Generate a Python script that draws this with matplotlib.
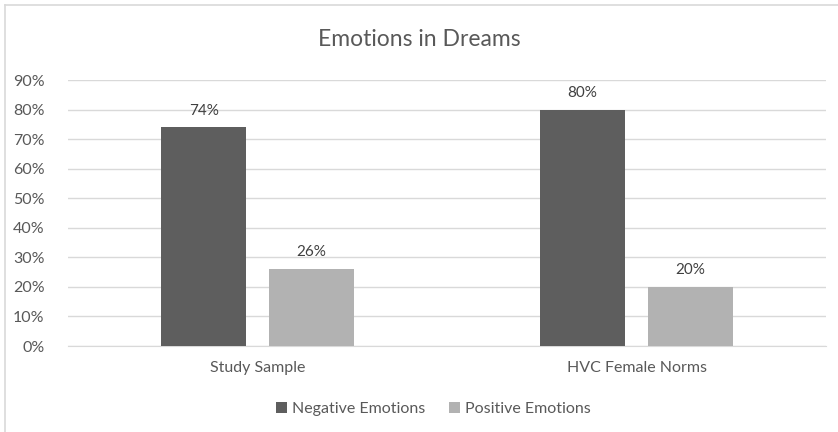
import numpy as np
import matplotlib.pyplot as plt
from matplotlib.lines import Line2D

categories = ['Study Sample', 'HVC Female Norms']
negative = [0.74, 0.80]
positive = [0.26, 0.20]
series_names = ['Negative Emotions', 'Positive Emotions']
yticks = [0, 0.1, 0.2, 0.3, 0.4, 0.5, 0.6, 0.7, 0.8, 0.9]

plt.rcParams['font.family'] = ['Lato', 'DejaVu Sans']

W, H = 838, 432
fig = plt.figure(figsize=(W / 100, H / 100), dpi=100)
ax = fig.add_axes([68 / W, (H - 346) / H, (826 - 68) / W, (346 - 80) / H])

x = np.arange(len(categories))
bw = 0.224
off = 0.142
dark = '#5e5e5e'
light = '#b2b2b2'
b1 = ax.bar(x - off, negative, bw, color=dark, label=series_names[0], zorder=3)
b2 = ax.bar(x + off, positive, bw, color=light, label=series_names[1], zorder=3)

for bars, vals in [(b1, negative), (b2, positive)]:
    for r, v in zip(bars, vals):
        ax.annotate(f'{v:.0%}', (r.get_x() + r.get_width() / 2, v),
                    xytext=(0, 7), textcoords='offset points',
                    ha='center', va='bottom', fontsize=11, color='#404040')

ax.set_xlim(-0.5, 1.5)
ax.set_ylim(0, 0.9)
ax.set_yticks(yticks)
ax.set_yticklabels([f'{int(round(t * 100))}%' for t in yticks])
ax.set_xticks(x)
ax.set_xticklabels(categories)
ax.tick_params(axis='both', length=0, labelsize=11.5, labelcolor='#595959')
ax.tick_params(axis='x', pad=11)
ax.tick_params(axis='y', pad=17)
ax.grid(axis='y', color='#d9d9d9', linewidth=1, zorder=0)
for s in ['top', 'right', 'left']:
    ax.spines[s].set_visible(False)
ax.spines['bottom'].set_color('#d9d9d9')

fig.text(419 / W, (H - 40) / H, 'Emotions in Dreams',
         ha='center', va='center', fontsize=16.5, color='#595959')

fig.legend(handles=[b1, b2], labels=series_names, loc='center',
           bbox_to_anchor=(433 / W, (H - 409) / H), ncol=2, frameon=False,
           fontsize=11.5, labelcolor='#595959', handlelength=0.7, handleheight=0.7,
           handletextpad=0.3, columnspacing=1.5)

# chart frame
fig.add_artist(Line2D([5 / W, 5 / W], [0, (H - 5) / H], color='#d9d9d9', lw=1.2))
fig.add_artist(Line2D([5 / W, 1], [(H - 5) / H, (H - 5) / H], color='#d9d9d9', lw=1.2))

fig.savefig('out.png', dpi=100)
